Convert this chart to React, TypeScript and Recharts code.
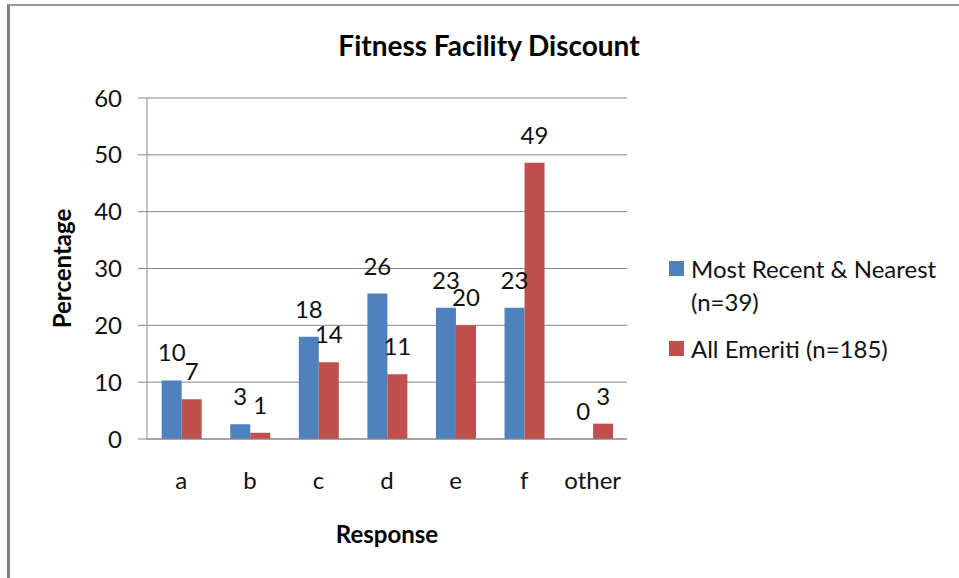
import React from "react";
import {
  Bar,
  BarChart,
  CartesianGrid,
  LabelList,
  Legend,
  XAxis,
  YAxis,
} from "recharts";

const CATEGORIES = ["a", "b", "c", "d", "e", "f", "other"];
const RECENT = [10.3, 2.6, 18.0, 25.6, 23.1, 23.1, 0];
const EMERITI = [7.0, 1.1, 13.5, 11.4, 20.0, 48.6, 2.7];
const SERIES_NAMES = ["Most Recent & Nearest (n=39)", "All Emeriti (n=185)"];
const Y_TICKS = [0, 10, 20, 30, 40, 50, 60];
const BOUNDARY_TICKS = [0, 1, 2, 3, 4, 5, 6, 7];

const BLUE = "#4F81BD";
const RED = "#C0504D";
const GREY = "#878787";
const FONT = "Lato, 'Open Sans', sans-serif";
const FS = 24;

const rows = CATEGORIES.map((c, i) => ({ cat: c, recent: RECENT[i], emeriti: EMERITI[i] }));

const fmtLabel = (v: any) => String(Math.round(Number(v)));

// Legend drawn as HTML so the long series name wraps like the original; keep series order
function LegendBox({ payload }: { payload?: Array<{ value: string; color: string }> }) {
  if (!payload) return null;
  const items = [...payload].sort((a, b) => SERIES_NAMES.indexOf(a.value) - SERIES_NAMES.indexOf(b.value));
  return (
    <div style={{ fontFamily: FONT, fontSize: FS, color: "#111" }}>
      {items.map((p) => (
        <div key={p.value} style={{ display: "flex", alignItems: "flex-start", marginBottom: 14 }}>
          <div style={{ width: 15, height: 15, background: p.color, marginTop: 9, marginRight: 7, flex: "none" }} />
          <div style={{ lineHeight: "33px" }}>{p.value}</div>
        </div>
      ))}
    </div>
  );
}

export default function App() {
  return (
    <div style={{ position: "absolute", left: 0, top: 0, width: 959, height: 578, background: "#fff", overflow: "hidden" }}>
      <div
        style={{
          position: "absolute",
          left: 7,
          top: 4,
          width: 2000,
          height: 2000,
          borderLeft: "3px solid #7f7f7f",
          borderTop: "2px solid #9a9a9a",
        }}
      />
      <div
        style={{
          position: "absolute",
          left: 489,
          top: 28,
          transform: "translateX(-50%)",
          whiteSpace: "nowrap",
          fontFamily: FONT,
          fontWeight: 700,
          fontSize: 28,
          lineHeight: "34px",
          color: "#000",
        }}
      >
        Fitness Facility Discount
      </div>
      <div style={{ position: "absolute", left: 0, top: 0 }}>
        <BarChart
          width={959}
          height={578}
          data={rows}
          margin={{ top: 98, right: 42, bottom: 0, left: 0 }}
          barCategoryGap="21.4%"
          barGap={0}
        >
          <CartesianGrid vertical={false} stroke={GREY} strokeWidth={1} />
          <XAxis
            xAxisId="ticks"
            type="number"
            domain={[0, 7]}
            ticks={BOUNDARY_TICKS}
            allowDataOverflow
            tick={false}
            axisLine={false}
            tickLine={{ stroke: GREY }}
            tickSize={8}
            height={0}
          />
          <XAxis
            dataKey="cat"
            xAxisId="main"
            height={139}
            tickLine={false}
            tickSize={0}
            tickMargin={33}
            axisLine={{ stroke: GREY }}
            tick={{ fill: "#111", fontSize: FS, fontFamily: FONT }}
            interval={0}
            label={{
              value: "Response",
              position: "insideBottom",
              offset: 35,
              fill: "#000",
              fontSize: FS,
              fontWeight: 700,
              fontFamily: FONT,
            }}
          />
          <YAxis
            width={147}
            domain={[0, 60]}
            ticks={Y_TICKS}
            tickSize={9}
            tickMargin={16}
            axisLine={{ stroke: GREY }}
            tickLine={{ stroke: GREY }}
            tick={{ fill: "#111", fontSize: FS, fontFamily: FONT }}
            label={{
              value: "Percentage",
              angle: -90,
              position: "insideLeft",
              offset: 62,
              fill: "#000",
              fontSize: FS,
              fontWeight: 700,
              fontFamily: FONT,
              style: { textAnchor: "middle" },
            }}
          />
          <Legend
            layout="vertical"
            align="right"
            verticalAlign="middle"
            wrapperStyle={{ left: 669, top: 252, width: 290 }}
            content={(props: any) => <LegendBox payload={props.payload} />}
          />
          <Bar
            dataKey="recent"
            xAxisId="main"
            name={SERIES_NAMES[0]}
            fill={BLUE}
            minPointSize={0.01}
            isAnimationActive={false}
          >
            <LabelList
              dataKey="recent"
              position="top"
              offset={19}
              formatter={fmtLabel}
              style={{ fill: "#111", fontSize: FS, fontFamily: FONT }}
            />
          </Bar>
          <Bar dataKey="emeriti" xAxisId="main" name={SERIES_NAMES[1]} fill={RED} isAnimationActive={false}>
            <LabelList
              dataKey="emeriti"
              position="top"
              offset={19}
              formatter={fmtLabel}
              style={{ fill: "#111", fontSize: FS, fontFamily: FONT }}
            />
          </Bar>
        </BarChart>
      </div>
    </div>
  );
}
